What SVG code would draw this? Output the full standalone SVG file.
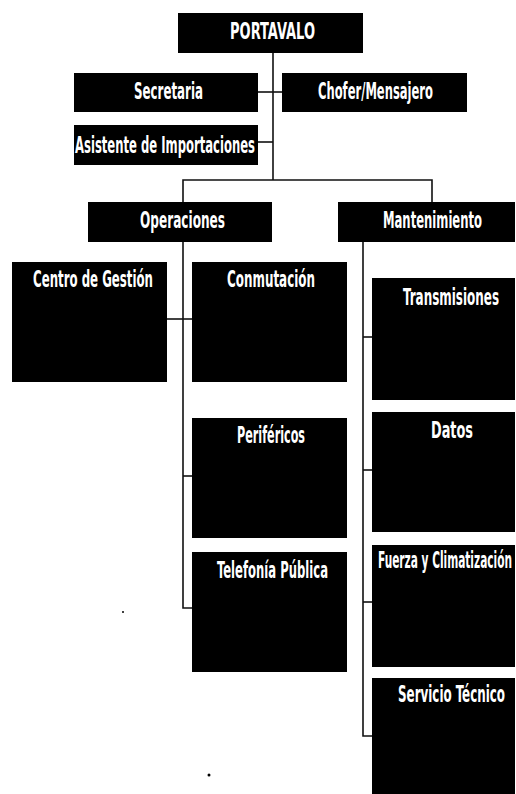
<svg xmlns="http://www.w3.org/2000/svg" width="516" height="794" viewBox="0 0 516 794">
<style>
.box{fill:#000;}
.lbl{fill:#fff;font-family:"Liberation Sans Narrow","DejaVu Sans Condensed","Liberation Sans",sans-serif;font-weight:bold;font-size:23px;}
.c{stroke:#111;stroke-width:1.6;fill:none;}
</style>
<rect width="516" height="794" fill="#fff"/>
<g id="connectors">
<path class="c" d="M273 53 V180"/>
<path class="c" d="M258 92 H282"/>
<path class="c" d="M258 142 H273"/>
<path class="c" d="M183 202 V180 H432 V202"/>
<path class="c" d="M183 242 V608 H192"/>
<path class="c" d="M167 319 H192"/>
<path class="c" d="M183 476 H192"/>
<path class="c" d="M363 242 V736 H372"/>
<path class="c" d="M363 337 H372"/>
<path class="c" d="M363 470 H372"/>
<path class="c" d="M363 602 H372"/>
</g>
<g id="portavalo"><rect class="box" x="178" y="13" width="185" height="40"/><text class="lbl" x="230" y="39" textLength="85" lengthAdjust="spacingAndGlyphs">PORTAVALO</text></g>
<g id="secretaria"><rect class="box" x="74" y="73" width="184" height="39"/><text class="lbl" x="134" y="99" textLength="69" lengthAdjust="spacingAndGlyphs">Secretaria</text></g>
<g id="chofer"><rect class="box" x="282" y="73" width="185" height="39"/><text class="lbl" x="318" y="99" textLength="115" lengthAdjust="spacingAndGlyphs">Chofer/Mensajero</text></g>
<g id="asistente"><rect class="box" x="74" y="125" width="184" height="40"/><text class="lbl" x="75" y="153" textLength="180" lengthAdjust="spacingAndGlyphs">Asistente de Importaciones</text></g>
<g id="operaciones"><rect class="box" x="88" y="202" width="184" height="40"/><text class="lbl" x="140" y="228" textLength="85" lengthAdjust="spacingAndGlyphs">Operaciones</text></g>
<g id="mantenimiento"><rect class="box" x="338" y="202" width="177" height="40"/><text class="lbl" x="383" y="228" textLength="99" lengthAdjust="spacingAndGlyphs">Mantenimiento</text></g>
<g id="centro"><rect class="box" x="12" y="262" width="155" height="120"/><text class="lbl" x="33" y="287" textLength="120" lengthAdjust="spacingAndGlyphs">Centro de Gestión</text></g>
<g id="conmutacion"><rect class="box" x="192" y="262" width="155" height="120"/><text class="lbl" x="227" y="287" textLength="88" lengthAdjust="spacingAndGlyphs">Conmutación</text></g>
<g id="transmisiones"><rect class="box" x="372" y="278" width="143" height="122"/><text class="lbl" x="403" y="305" textLength="96" lengthAdjust="spacingAndGlyphs">Transmisiones</text></g>
<g id="perifericos"><rect class="box" x="192" y="418" width="155" height="120"/><text class="lbl" x="237" y="443" textLength="68" lengthAdjust="spacingAndGlyphs">Periféricos</text></g>
<g id="datos"><rect class="box" x="372" y="412" width="143" height="120"/><text class="lbl" x="431" y="438" textLength="42" lengthAdjust="spacingAndGlyphs">Datos</text></g>
<g id="telefonia"><rect class="box" x="192" y="552" width="155" height="120"/><text class="lbl" x="217" y="578" textLength="111" lengthAdjust="spacingAndGlyphs">Telefonía Pública</text></g>
<g id="fuerza"><rect class="box" x="372" y="545" width="143" height="122"/><text class="lbl" x="378" y="568" textLength="134" lengthAdjust="spacingAndGlyphs">Fuerza y Climatización</text></g>
<g id="servicio"><rect class="box" x="372" y="678" width="143" height="116"/><text class="lbl" x="398" y="702" textLength="107" lengthAdjust="spacingAndGlyphs">Servicio Técnico</text></g>
<circle cx="123" cy="612" r="1" fill="#000"/>
<circle cx="209" cy="775" r="1.5" fill="#000"/>
</svg>
